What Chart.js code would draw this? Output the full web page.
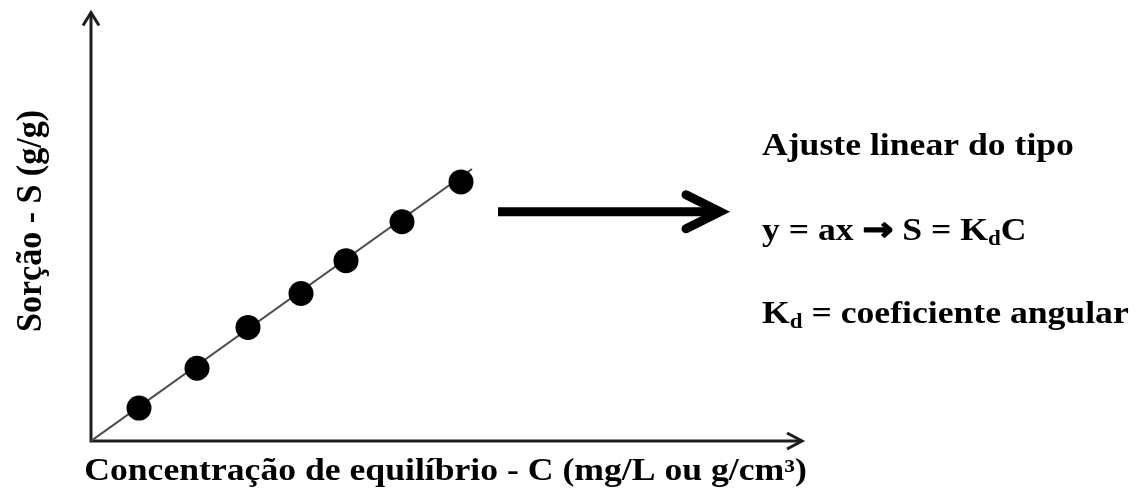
<!DOCTYPE html>
<html>
<head>
<meta charset="utf-8">
<script src="https://cdn.jsdelivr.net/npm/chart.js@4.4.1/dist/chart.umd.min.js"></script>
<style>
  html, body { margin: 0; padding: 0; background: #ffffff; }
  #wrap { width: 1141px; height: 491px; }
</style>
</head>
<body>
<div id="wrap"><canvas id="chart" width="1141" height="491"></canvas></div>
<script>
// Equilibrium concentration (C) and sorbed amount (S), arbitrary units
const concentration = [48, 106, 157, 210, 255, 311, 370];
const sorption      = [33, 73, 114, 148, 181, 220, 260];

// Linear fit S = Kd * C, drawn from the origin past the last point
const fitC = [0, 381];
const fitS = [0, 273];

// Axis extents (no ticks are shown)
const axisMaxC = 711;
const axisMaxS = 430;

// Text blocks
const xTitle = 'Concentração de equilíbrio - C (mg/L ou g/cm³)';
const yTitle = 'Sorção - S (g/g)';

const SERIF = '"Liberation Serif", "Times New Roman", serif';
const INK = '#000000';
const STRETCH = 1.15;

function drawRun(ctx, parts, x, y, sx) {
  ctx.save();
  ctx.translate(x, y);
  ctx.scale(sx, 1);
  ctx.textBaseline = 'alphabetic';
  ctx.textAlign = 'left';
  ctx.fillStyle = INK;
  ctx.strokeStyle = INK;
  ctx.lineJoin = 'round';
  let cx = 0;
  for (const p of parts) {
    ctx.font = p.font;
    ctx.fillText(p.text, cx, p.dy || 0);
    if (p.stroke) {
      ctx.lineWidth = p.stroke;
      ctx.strokeText(p.text, cx, p.dy || 0);
    }
    cx += ctx.measureText(p.text).width;
  }
  ctx.restore();
}

const axesPlugin = {
  id: 'arrowAxes',
  beforeDatasetsDraw(chart) {
    const { ctx, chartArea: a } = chart;
    ctx.save();
    ctx.strokeStyle = '#1e1e1e';
    ctx.lineWidth = 3;
    ctx.lineJoin = 'miter';
    ctx.lineCap = 'butt';
    // axis lines
    ctx.beginPath();
    ctx.moveTo(a.left, a.top);
    ctx.lineTo(a.left, a.bottom);
    ctx.lineTo(a.right, a.bottom);
    ctx.stroke();
    // y arrowhead
    ctx.beginPath();
    ctx.moveTo(a.left - 8, a.top + 13);
    ctx.lineTo(a.left, a.top);
    ctx.lineTo(a.left + 8, a.top + 13);
    ctx.stroke();
    // x arrowhead
    ctx.beginPath();
    ctx.moveTo(a.right - 15, a.bottom - 8);
    ctx.lineTo(a.right, a.bottom);
    ctx.lineTo(a.right - 15, a.bottom + 8);
    ctx.stroke();
    ctx.restore();
  },
  afterDatasetsDraw(chart) {
    const { ctx, chartArea: a, scales } = chart;
    const sx = scales.x, sy = scales.y;

    // thick arrow pointing to the explanation
    const ax0 = sx.getPixelForValue(407), ax1 = sx.getPixelForValue(631);
    const ay = sy.getPixelForValue(230);
    ctx.save();
    ctx.strokeStyle = '#000';
    ctx.lineWidth = 9;
    ctx.lineCap = 'butt';
    ctx.lineJoin = 'miter';
    ctx.beginPath();
    ctx.moveTo(ax0, ay);
    ctx.lineTo(ax1 - 4, ay);
    ctx.stroke();
    ctx.lineCap = 'round';
    ctx.beginPath();
    ctx.moveTo(ax1 - 36, ay - 17);
    ctx.lineTo(ax1 - 2, ay);
    ctx.lineTo(ax1 - 36, ay + 17);
    ctx.stroke();
    ctx.restore();

    // explanation text
    const tx = a.right - 40;
    const big = 'bold 31px ' + SERIF;
    const sub = 'bold 20px ' + SERIF;
    drawRun(ctx, [{ text: 'Ajuste linear do tipo', font: big }], tx, 155, STRETCH);
    drawRun(ctx, [
      { text: 'y = ax ', font: big },
      { text: '\u2192', font: 'bold 32px "DejaVu Sans"', stroke: 1.4 },
      { text: ' S = K', font: big },
      { text: 'd', font: sub, dy: 5 },
      { text: 'C', font: big }
    ], tx, 240, STRETCH);
    drawRun(ctx, [
      { text: 'K', font: big },
      { text: 'd', font: sub, dy: 5 },
      { text: ' = coeficiente angular', font: big }
    ], tx, 323, STRETCH);

    // axis titles
    ctx.save();
    ctx.font = big;
    const w = ctx.measureText(xTitle).width * STRETCH;
    ctx.restore();
    drawRun(ctx, [{ text: xTitle, font: big }], (a.left + a.right) / 2 - w / 2 - 1, 480, STRETCH);

    ctx.save();
    ctx.translate(41, 221);
    ctx.rotate(-Math.PI / 2);
    ctx.scale(1, 1.08);
    ctx.font = 'bold 34px ' + SERIF;
    ctx.fillStyle = INK;
    ctx.textAlign = 'center';
    ctx.textBaseline = 'alphabetic';
    ctx.fillText(yTitle, 0, 0);
    ctx.restore();
  }
};

new Chart(document.getElementById('chart'), {
  type: 'scatter',
  data: {
    datasets: [
      {
        label: 'Ajuste linear',
        data: fitC.map((c, i) => ({ x: c, y: fitS[i] })),
        showLine: true,
        borderColor: '#4a4a4a',
        borderWidth: 2,
        pointRadius: 0,
        order: 2
      },
      {
        label: 'Sorção',
        data: concentration.map((c, i) => ({ x: c, y: sorption[i] })),
        pointRadius: 12.5,
        pointHoverRadius: 12.5,
        backgroundColor: '#000000',
        borderColor: '#000000',
        borderWidth: 0,
        order: 1
      }
    ]
  },
  options: {
    responsive: false,
    animation: false,
    devicePixelRatio: 1,
    layout: { padding: { left: 91, right: 339, top: 11, bottom: 50 } },
    plugins: { legend: { display: false }, tooltip: { enabled: false } },
    scales: {
      x: { type: 'linear', min: 0, max: axisMaxC, display: false },
      y: { type: 'linear', min: 0, max: axisMaxS, display: false }
    }
  },
  plugins: [axesPlugin]
});
</script>
</body>
</html>
